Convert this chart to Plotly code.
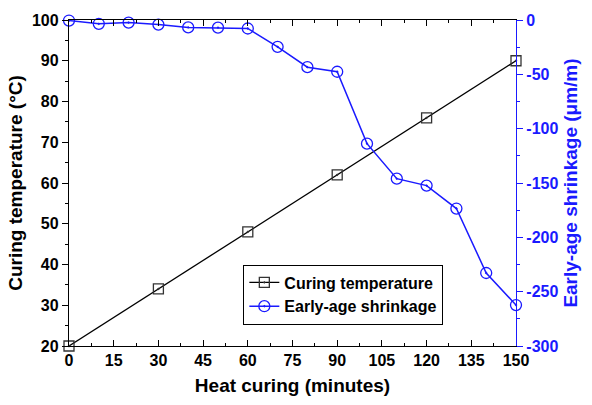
import plotly.graph_objects as go

time_temp = [0, 30, 60, 90, 120, 150]
temperature = [20, 34, 48, 62, 76, 90]

time_shr = [0, 10, 20, 30, 40, 50, 60, 70, 80, 90, 100, 110, 120, 130, 140, 150]
shrinkage = [-0.5, -3.5, -2.4, -4.2, -6.8, -7.0, -7.8, -24.7, -43.4, -47.6, -113.8, -146, -152.4, -173.5, -232.8, -262.3]

x_ticks = list(range(0, 151, 15))
y1_ticks = list(range(20, 101, 10))
y2_ticks = list(range(-300, 1, 50))

BLUE = "#1a1aff"
F = "Liberation Sans, Arial, sans-serif"
TF = dict(size=16, family=F)

def bold(vals):
    return ["<b>%s</b>" % v for v in vals]

fig = go.Figure()
fig.add_trace(go.Scatter(
    x=time_temp, y=temperature, name="<b>Curing temperature</b>", mode="lines+markers",
    line=dict(color="black", width=1.3),
    marker=dict(symbol="square-open-dot", size=10, color="#333", line=dict(width=1.3)),
    cliponaxis=False,
))
fig.add_trace(go.Scatter(
    x=time_shr, y=shrinkage, name="<b>Early-age shrinkage</b>", mode="lines+markers", yaxis="y2",
    line=dict(color=BLUE, width=1.5),
    marker=dict(symbol="circle-open-dot", size=11, color=BLUE, line=dict(width=1.3)),
    cliponaxis=False,
))

fig.update_layout(
    width=592, height=405,
    margin=dict(l=69, r=76, t=14, b=59),
    paper_bgcolor="white", plot_bgcolor="white",
    font=dict(family=F, size=15, color="black"),
    showlegend=True,
    legend=dict(x=0.39, y=0.25, xanchor="left", yanchor="top",
                bordercolor="black", borderwidth=1, bgcolor="white",
                font=dict(size=16, family=F),
                tracegroupgap=0, itemwidth=30),
    xaxis=dict(
        range=[0, 150], tickvals=x_ticks, ticktext=bold(x_ticks),
        title=dict(text="<b>Heat curing (minutes)</b>", font=dict(size=19, family=F), standoff=10),
        showgrid=False, zeroline=False,
        showline=True, linecolor="black", linewidth=1.3, mirror="ticks",
        ticks="inside", ticklen=6, tickwidth=1.3, tickcolor="black",
        minor=dict(ticks="inside", ticklen=3, tickwidth=1, tickcolor="black", dtick=7.5, showgrid=False),
        tickfont=TF,
    ),
    yaxis=dict(
        range=[20, 100], tickvals=y1_ticks, ticktext=bold(y1_ticks),
        title=dict(text="<b>Curing temperature (°C)</b>", font=dict(size=19, family=F), standoff=4),
        showgrid=False, zeroline=False,
        showline=True, linecolor="black", linewidth=1.3,
        ticks="outside", ticklen=6, tickwidth=1.3, tickcolor="black",
        minor=dict(ticks="outside", ticklen=3, tickwidth=1, tickcolor="black", dtick=5, showgrid=False),
        tickfont=TF,
    ),
    yaxis2=dict(
        range=[-300, 0], tickvals=y2_ticks, ticktext=bold(y2_ticks),
        overlaying="y", side="right",
        title=dict(text="<b>Early-age shrinkage (μm/m)</b>", font=dict(size=19, family=F, color=BLUE), standoff=6),
        showgrid=False, zeroline=False,
        showline=True, linecolor=BLUE, linewidth=1.3,
        ticks="outside", ticklen=6, tickwidth=1.3, tickcolor=BLUE,
        minor=dict(ticks="outside", ticklen=3, tickwidth=1, tickcolor=BLUE, dtick=25, showgrid=False),
        tickfont=dict(size=16, family=F, color=BLUE),
    ),
)

fig.write_html("out.html")
